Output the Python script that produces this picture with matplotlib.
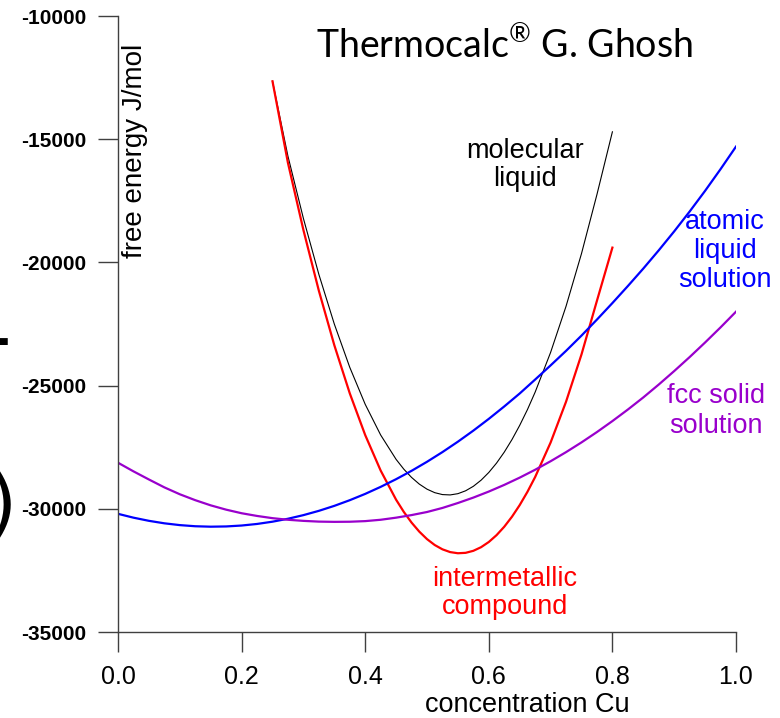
import matplotlib
matplotlib.use("Agg")
import matplotlib.pyplot as plt

# free energy curves (J/mol vs mole fraction Cu)
x_liq = [0.000, 0.025, 0.050, 0.075, 0.100, 0.125, 0.150, 0.175, 0.200,
         0.225, 0.250, 0.275, 0.300, 0.325, 0.350, 0.375, 0.400, 0.425,
         0.450, 0.475, 0.500, 0.525, 0.550, 0.575, 0.600, 0.625, 0.650,
         0.675, 0.700, 0.725, 0.750, 0.775, 0.800, 0.825, 0.850, 0.875,
         0.900, 0.925, 0.950, 0.975, 1.000]
g_atomic = [-30204, -30360, -30488, -30589, -30662, -30708, -30726, -30716,
            -30679, -30615, -30523, -30404, -30257, -30083, -29881, -29651,
            -29395, -29110, -28798, -28459, -28092, -27698, -27276, -26827,
            -26350, -25846, -25320, -24754, -24180, -23590, -22970, -22320,
            -21650, -20960, -20250, -19510, -18740, -17935, -17095, -16215,
            -15300]
g_fcc = [-28130, -28480, -28810, -29130, -29410, -29650, -29860, -30035,
         -30180, -30290, -30380, -30445, -30490, -30520, -30530, -30525,
         -30500, -30445, -30360, -30255, -30130, -29965, -29765, -29545,
         -29300, -29030, -28735, -28415, -28070, -27700, -27305, -26885,
         -26440, -25972, -25480, -24957, -24410, -23842, -23250, -22637,
         -22000]

x_mol = [0.250, 0.275, 0.300, 0.325, 0.350, 0.375, 0.400, 0.425, 0.450,
         0.4625, 0.475, 0.4875, 0.500, 0.5125, 0.525, 0.5375, 0.550, 0.5625,
         0.575, 0.5875, 0.600, 0.6125, 0.625, 0.6375, 0.650, 0.6625, 0.675,
         0.700, 0.725, 0.750, 0.775, 0.800]
g_molecular = [-12650, -15690, -18215, -20485, -22500, -24257, -25759,
               -27004, -27994, -28392, -28726, -28997, -29203, -29345,
               -29423, -29437, -29386, -29269, -29087, -28839, -28525,
               -28146, -27701, -27190, -26614, -25975, -25265, -23653,
               -21779, -19642, -17243, -14700]
g_intermet = [-12650, -15963, -18684, -21149, -23358, -25311, -27007,
              -28447, -29631, -30127, -30559, -30926, -31230, -31470,
              -31645, -31757, -31804, -31787, -31705, -31558, -31347,
              -31070, -30728, -30321, -29849, -29312, -28710, -27311,
              -25653, -23734, -21555, -19400]

xticks = [0.0, 0.2, 0.4, 0.6, 0.8, 1.0]
yticks = [-35000, -30000, -25000, -20000, -15000, -10000]

purple = "#9900CC"
spine = "#404040"
arial = "Liberation Sans"

plt.rcParams["mathtext.fontset"] = "custom"
plt.rcParams["mathtext.rm"] = "Lato"

fig = plt.figure(figsize=(7.8, 7.18), dpi=100)
ax = fig.add_axes([118 / 780, 86 / 718, 618 / 780, 616 / 718])

ax.plot(x_mol, g_molecular, color="black", lw=0.8)
ax.plot(x_mol, g_intermet, color="red", lw=1.6)
ax.plot(x_liq, g_atomic, color="blue", lw=1.6)
ax.plot(x_liq, g_fcc, color=purple, lw=1.6)

ax.set_xlim(0, 1)
ax.set_ylim(-35000, -10000)
ax.set_xticks(xticks)
ax.set_xticklabels([f"{v:.1f}" for v in xticks], fontsize=18, family=arial)
ax.set_yticks(yticks)
ax.set_yticklabels([str(v) for v in yticks], fontsize=15, fontweight="bold",
                   family=arial)
ax.tick_params(direction="out", length=14.5, width=1, color=spine)
ax.tick_params(axis="x", pad=9)
ax.tick_params(axis="y", pad=8)
for s in ["top", "right"]:
    ax.spines[s].set_visible(False)
for s in ["left", "bottom"]:
    ax.spines[s].set_color(spine)
    ax.spines[s].set_linewidth(1)

# axis titles sit where the slide put them, not centred on the axes
ax.text(0.662, -0.1185, "concentration Cu", transform=ax.transAxes,
        ha="center", va="center", fontsize=19.5, family=arial)
ax.text(0.028, 0.781, "free energy J/mol", transform=ax.transAxes, rotation=90,
        ha="center", va="center", fontsize=20, family=arial)

ax.text(0.625, 0.953, r"Thermocalc$^{\mathrm{®}}$ G. Ghosh", transform=ax.transAxes,
        ha="center", va="center", fontsize=27, family="Lato")

ax.text(0.659, -16050, "molecular\nliquid", ha="center", va="center",
        fontsize=19.5, family=arial, color="black", linespacing=1.13)
ax.text(0.982, -19540, "atomic\nliquid\nsolution", ha="center", va="center",
        fontsize=19.5, family=arial, color="blue", linespacing=1.17)
ax.text(0.968, -26030, "fcc solid\nsolution", ha="center", va="center",
        fontsize=19.5, family=arial, color=purple, linespacing=1.17)
ax.text(0.626, -33420, "intermetallic\ncompound", ha="center", va="center",
        fontsize=19.5, family=arial, color="red", linespacing=1.13)

# bits of slide text cut off at the left edge
fig.text(-0.022, 1 - 342 / 718, "–", fontsize=40, fontweight="bold", va="center")
fig.text(-0.016, 1 - 508 / 718, ")", fontsize=54, va="center")

fig.savefig("out.png", dpi=100)
